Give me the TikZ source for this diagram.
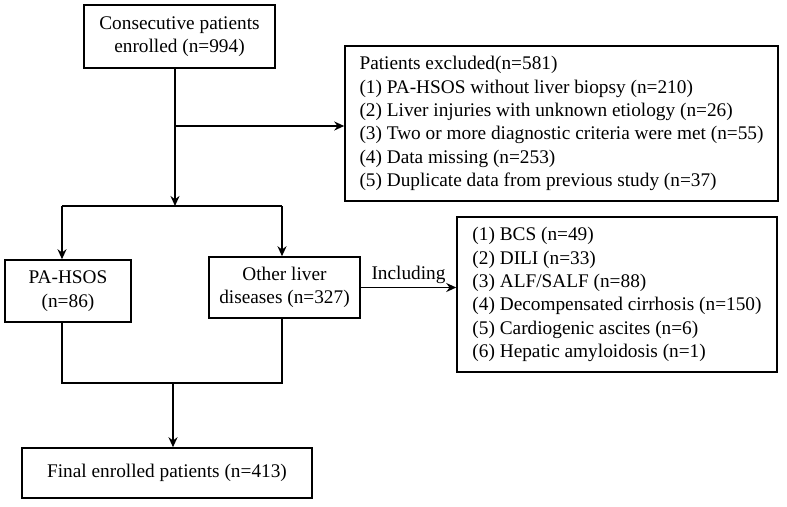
\documentclass[tikz,border=0pt]{standalone}
\usepackage{fontspec}
\setmainfont{Liberation Serif}
\usetikzlibrary{arrows.meta,positioning}
\begin{document}
\begin{tikzpicture}[x=1pt,y=-1pt,
  box/.style={draw,line width=1.5pt,inner sep=0pt,font=\fontsize{19.3}{23.4}\selectfont},
  listbox/.style={box,align=left},
  conn/.style={line width=1.6pt},
  arr/.style={conn,-{Stealth[length=10pt,width=9pt]}}]
\useasboundingbox (0,0) rectangle (787,506);
\node[box,align=center,minimum width=191pt,minimum height=63pt] (top) at (179.5,36.5)
  {Consecutive patients\\enrolled (n=994)};
\node[listbox,minimum width=433pt,minimum height=155pt] (excl) at (561.5,123.5)
  {Patients excluded(n=581)\\
   (1) PA-HSOS without liver biopsy (n=210)\\
   (2) Liver injuries with unknown etiology (n=26)\\
   (3) Two or more diagnostic criteria were met (n=55)\\
   (4) Data missing (n=253)\\
   (5) Duplicate data from previous study (n=37)};
\node[box,align=center,minimum width=126pt,minimum height=62pt] (pa) at (68,291)
  {PA-HSOS\\(n=86)};
\node[box,align=center,minimum width=151pt,minimum height=61pt] (other) at (284.5,287.5)
  {Other liver\\diseases (n=327)};
\node[listbox,minimum width=320pt,minimum height=155pt] (incl) at (617,294.5)
  {(1) BCS (n=49)\\
   (2) DILI (n=33)\\
   (3) ALF/SALF (n=88)\\
   (4) Decompensated cirrhosis (n=150)\\
   (5) Cardiogenic ascites (n=6)\\
   (6) Hepatic amyloidosis (n=1)};
\node[box,align=center,minimum width=290pt,minimum height=50pt] (final) at (167,473)
  {Final enrolled patients (n=413)};
% coordinates
\coordinate (trunk) at (175,206);
\coordinate (branch) at (175,126);
\coordinate (splitL) at (62,206);
\coordinate (splitR) at (282,206);
\coordinate (mergeL) at (62,383);
\coordinate (mergeR) at (282,383);
\coordinate (mergeC) at (173,383);
% connectors
\draw[arr] (top.south -| trunk) -- (trunk);
\draw[arr] (branch) -- (branch -| excl.west);
\draw[conn] (splitL) -- (splitR);
\draw[arr] (splitL) -- (splitL |- pa.north);
\draw[arr] (splitR) -- (splitR |- other.north);
\draw[arr] (other.east) -- node[above,font=\fontsize{19.3}{23.4}\selectfont,inner sep=3pt]{Including} (other.east -| incl.west);
\draw[conn] (pa.south -| mergeL) -- (mergeL) -- (mergeR) -- (other.south -| mergeR);
\draw[arr] (mergeC) -- (mergeC |- final.north);
\end{tikzpicture}
\end{document}
